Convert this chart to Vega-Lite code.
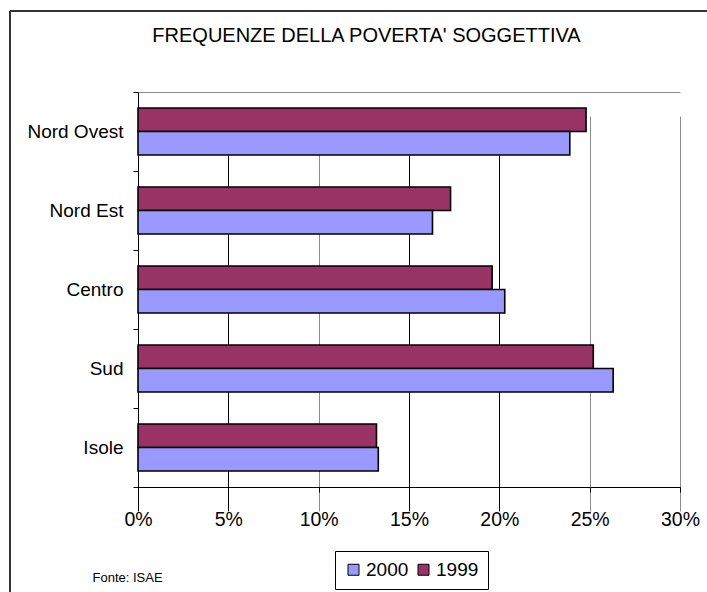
{
  "$schema": "https://vega.github.io/schema/vega-lite/v6.json",
  "width": 697,
  "height": 581,
  "autosize": {"type": "none"},
  "padding": {"left": 10, "top": 11, "right": 0, "bottom": 0},
  "background": "white",
  "title": {
    "text": "FREQUENZE DELLA POVERTA' SOGGETTIVA",
    "font": "Liberation Sans",
    "fontSize": 20,
    "fontWeight": "normal",
    "color": "black",
    "anchor": "middle",
    "frame": "group",
    "baseline": "alphabetic",
    "offset": 0,
    "dx": 8,
    "dy": 60
  },
  "data": {
    "values": [
      {"area": "Nord Ovest", "anno": "1999", "valore": 0.248},
      {"area": "Nord Ovest", "anno": "2000", "valore": 0.239},
      {"area": "Nord Est", "anno": "1999", "valore": 0.173},
      {"area": "Nord Est", "anno": "2000", "valore": 0.163},
      {"area": "Centro", "anno": "1999", "valore": 0.196},
      {"area": "Centro", "anno": "2000", "valore": 0.203},
      {"area": "Sud", "anno": "1999", "valore": 0.252},
      {"area": "Sud", "anno": "2000", "valore": 0.263},
      {"area": "Isole", "anno": "1999", "valore": 0.132},
      {"area": "Isole", "anno": "2000", "valore": 0.133}
    ]
  },
  "layer": [
    {
      "mark": {"type": "bar", "stroke": "black", "strokeWidth": 1.6},
      "encoding": {
        "y": {
          "field": "area",
          "type": "nominal",
          "sort": ["Nord Ovest", "Nord Est", "Centro", "Sud", "Isole"],
          "scale": {"range": [81, 476], "paddingInner": 0, "paddingOuter": 0},
          "axis": {
            "orient": "left",
            "offset": -128,
            "title": null,
            "grid": false,
            "tickBand": "extent",
            "tickSize": 5,
            "tickColor": "black",
            "domainColor": "black",
            "labelPadding": 10,
            "labelFont": "Liberation Sans",
            "labelFontSize": 19,
            "labelColor": "black"
          }
        },
        "yOffset": {
          "field": "anno",
          "type": "nominal",
          "sort": ["1999", "2000"],
          "scale": {"paddingInner": 0, "paddingOuter": 0.68}
        },
        "x": {
          "field": "valore",
          "type": "quantitative",
          "scale": {"domain": [0, 0.3], "range": [128, 670], "nice": false},
          "axis": {
            "orient": "bottom",
            "offset": -105,
            "values": [0, 0.05, 0.1, 0.15, 0.2, 0.25, 0.3],
            "format": ".0%",
            "grid": true,
            "gridColor": {
              "condition": {"test": "datum.value == 0.1 || datum.value == 0.25 || datum.value == 0.3", "value": "#8c8c8c"},
              "value": "#000000"
            },
            "gridWidth": 1,
            "tickSize": 5,
            "tickColor": "black",
            "domainColor": "black",
            "labelPadding": 18,
            "labelFont": "Liberation Sans",
            "labelFontSize": 19.5,
            "labelColor": "black",
            "labelFlush": false,
            "title": "Fonte: ISAE",
            "titleX": 82,
            "titleY": 90,
            "titleAlign": "left",
            "titleBaseline": "middle",
            "titleFont": "Liberation Sans",
            "titleFontSize": 13,
            "titleFontWeight": "normal",
            "titleColor": "black"
          }
        },
        "color": {
          "field": "anno",
          "type": "nominal",
          "scale": {"domain": ["2000", "1999"], "range": ["#9999FF", "#993366"]},
          "legend": {
            "orient": "none",
            "legendX": 325,
            "legendY": 540,
            "direction": "horizontal",
            "title": null,
            "strokeColor": "black",
            "fillColor": "white",
            "padding": 9,
            "columnPadding": 5,
            "labelOffset": 3,
            "labelFont": "Liberation Sans",
            "labelFontSize": 19,
            "labelColor": "black",
            "symbolType": "square",
            "symbolSize": 121,
            "symbolStrokeColor": "black",
            "symbolStrokeWidth": 1
          }
        }
      }
    },
    {
      "mark": {"type": "tick", "opacity": 0},
      "encoding": {
        "x": {
          "field": "valore",
          "type": "quantitative",
          "axis": {
            "orient": "top",
            "offset": -81,
            "labels": false,
            "ticks": false,
            "grid": false,
            "title": null,
            "domainColor": "#8c8c8c"
          }
        }
      }
    }
  ],
  "resolve": {"axis": {"x": "independent"}},
  "config": {
    "font": "Liberation Sans",
    "view": {"stroke": "#333333", "strokeWidth": 2, "strokeDash": [697, 1278, 581, 0]}
  }
}
